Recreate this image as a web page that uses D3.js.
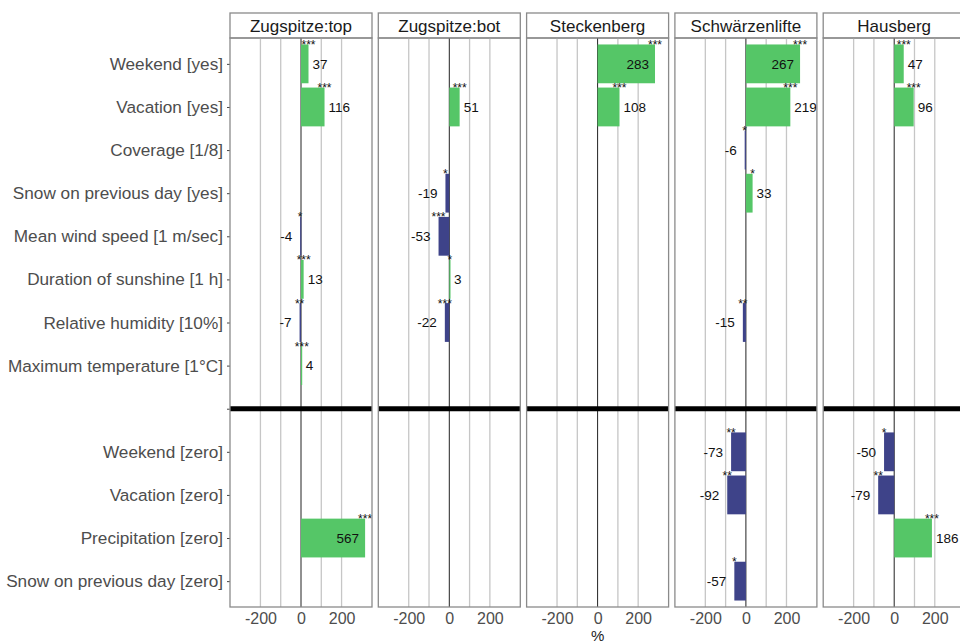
<!DOCTYPE html>
<html>
<head>
<meta charset="utf-8">
<script src="https://cdn.jsdelivr.net/npm/d3@7"></script>
<style>
  body { margin: 0; background: #fff; }
  svg { font-family: "Liberation Sans", Arial, sans-serif; }
</style>
</head>
<body>
<svg id="chart" width="960" height="644"></svg>
<script>
/* Relative effects per ski area, faceted horizontal bars */

// facets
const sites = ["Zugspitze:top", "Zugspitze:bot", "Steckenberg", "Schwärzenlifte", "Hausberg"];

// predictor rows, upper block (count model) and lower block (zero model)
const upperLabels = ["Weekend [yes]", "Vacation [yes]", "Coverage [1/8]", "Snow on previous day [yes]",
                     "Mean wind speed [1 m/sec]", "Duration of sunshine [1 h]", "Relative humidity [10%]",
                     "Maximum temperature [1°C]"];
const lowerLabels = ["Weekend [zero]", "Vacation [zero]", "Precipitation [zero]", "Snow on previous day [zero]"];

// values in %, same order as upperLabels + lowerLabels (null = not in model)
const zugspitzeTop   = [37, 116, null, null, -4, 13, -7, 4,        null, null, 567, null];
const zugspitzeBot   = [null, 51, null, -19, -53, 3, -22, null,    null, null, null, null];
const steckenberg    = [283, 108, null, null, null, null, null, null, null, null, null, null];
const schwaerzen     = [267, 219, -6, 33, null, null, -15, null,   -73, -92, null, -57];
const hausberg       = [47, 96, null, null, null, null, null, null, -50, -79, 186, null];

// significance stars
const zugspitzeTopSig = ["***", "***", "", "", "*", "***", "**", "***", "", "", "***", ""];
const zugspitzeBotSig = ["", "***", "", "*", "***", "*", "***", "", "", "", "", ""];
const steckenbergSig  = ["***", "***", "", "", "", "", "", "", "", "", "", ""];
const schwaerzenSig   = ["***", "***", "*", "*", "", "", "**", "", "**", "**", "", "*"];
const hausbergSig     = ["***", "***", "", "", "", "", "", "", "*", "**", "***", ""];

const xTicks = [-200, 0, 200];
const xGrid = [-200, -100, 0, 100, 200];

const siteValues = [zugspitzeTop, zugspitzeBot, steckenberg, schwaerzen, hausberg];
const siteSig = [zugspitzeTopSig, zugspitzeBotSig, steckenbergSig, schwaerzenSig, hausbergSig];

const SEP = "__sep__";
const rows = upperLabels.concat([SEP], lowerLabels);
const predictors = upperLabels.concat(lowerLabels);

const green = "#55c667";
const navy = "#3e4389";
const barCap = 316;   // bars beyond the panel limit are squished

// layout
const svg = d3.select("#chart");
const panelLeft = 230, panelStep = 148.3, panelW = 142;
const stripTop = 13, stripH = 25;
const panelTop = stripTop + stripH, panelBottom = 607;

const xScale = d3.scaleLinear().domain([-350, 350]).range([0, panelW]);
const yScale = d3.scalePoint().domain(rows).range([panelTop, panelBottom]).padding(0.6);
const barH = yScale.step() * 0.9;

// y axis (labels + ticks)
const yAxis = d3.axisLeft(yScale)
  .tickSize(3)
  .tickPadding(4)
  .tickFormat(d => d === SEP ? "" : d);

const gY = svg.append("g")
  .attr("transform", "translate(" + panelLeft + ",0)")
  .call(yAxis);
gY.select(".domain").remove();
gY.selectAll(".tick line").attr("stroke", "#444").attr("stroke-width", 1);
gY.selectAll(".tick text")
  .attr("fill", "#4d4d4d")
  .attr("font-size", 17.2)
  .attr("font-family", "Liberation Sans, Arial, sans-serif");

sites.forEach(function(site, i) {
  const x0 = panelLeft + i * panelStep;
  const g = svg.append("g").attr("transform", "translate(" + x0 + ",0)");

  // strip
  g.append("rect")
    .attr("x", 0).attr("y", stripTop)
    .attr("width", panelW).attr("height", stripH)
    .attr("fill", "#fff").attr("stroke", "#8a8a8a").attr("stroke-width", 1.3);
  g.append("text")
    .attr("x", panelW / 2).attr("y", stripTop + stripH / 2)
    .attr("dy", "0.36em")
    .attr("text-anchor", "middle")
    .attr("font-size", 17)
    .attr("fill", "#1a1a1a")
    .text(site);

  // grid
  g.selectAll(".grid").data(xGrid.filter(d => d !== 0)).enter().append("line")
    .attr("x1", d => xScale(d)).attr("x2", d => xScale(d))
    .attr("y1", panelTop).attr("y2", panelBottom)
    .attr("stroke", "#c6c6c6").attr("stroke-width", 1.3);

  // zero line
  g.append("line")
    .attr("x1", xScale(0)).attr("x2", xScale(0))
    .attr("y1", panelTop).attr("y2", panelBottom)
    .attr("stroke", "#222").attr("stroke-width", 1);

  // separator between count and zero part
  g.append("line")
    .attr("x1", 0).attr("x2", panelW)
    .attr("y1", yScale(SEP)).attr("y2", yScale(SEP))
    .attr("stroke", "#000").attr("stroke-width", 5);

  // bars
  const data = predictors.map((p, j) => ({ p: p, v: siteValues[i][j], sig: siteSig[i][j] }))
    .filter(d => d.v !== null);

  const end = d => xScale(Math.min(d.v, barCap));

  g.selectAll(".bar").data(data).enter().append("rect")
    .attr("x", d => Math.min(xScale(0), end(d)))
    .attr("y", d => yScale(d.p) - barH / 2)
    .attr("width", d => Math.max(Math.abs(end(d) - xScale(0)), 1.2))
    .attr("height", barH)
    .attr("fill", d => d.v >= 0 ? green : navy);

  // value labels
  g.selectAll(".val").data(data).enter().append("text")
    .attr("x", d => d.v > 250 ? end(d) - 6 : (d.v >= 0 ? end(d) + 4 : end(d) - 8))
    .attr("y", d => yScale(d.p))
    .attr("dy", "0.36em")
    .attr("text-anchor", d => (d.v > 250 || d.v < 0) ? "end" : "start")
    .attr("font-size", 13.5)
    .attr("fill", "#111")
    .text(d => d.v);

  // significance stars
  g.selectAll(".sig").data(data).enter().append("text")
    .attr("x", d => end(d))
    .attr("y", d => yScale(d.p) - barH / 2 + 4.5)
    .attr("text-anchor", "middle")
    .attr("font-size", 12)
    .attr("fill", "#111")
    .text(d => d.sig);

  // panel border
  g.append("rect")
    .attr("x", 0).attr("y", panelTop)
    .attr("width", panelW).attr("height", panelBottom - panelTop)
    .attr("fill", "none").attr("stroke", "#8a8a8a").attr("stroke-width", 1.3);

  // x axis
  const xAxis = d3.axisBottom(xScale).tickValues(xTicks).tickSize(0).tickPadding(6)
    .tickFormat(d => String(d));
  const gX = g.append("g")
    .attr("transform", "translate(0," + panelBottom + ")")
    .call(xAxis);
  gX.select(".domain").remove();
  gX.selectAll(".tick text")
    .attr("fill", "#4d4d4d")
    .attr("font-size", 16)
    .attr("font-family", "Liberation Sans, Arial, sans-serif");
});

// x title, centred under the panels
svg.append("text")
  .attr("x", panelLeft + 2 * panelStep + panelW / 2)
  .attr("y", 641)
  .attr("text-anchor", "middle")
  .attr("font-size", 15)
  .attr("fill", "#1a1a1a")
  .text("%");
</script>
</body>
</html>
